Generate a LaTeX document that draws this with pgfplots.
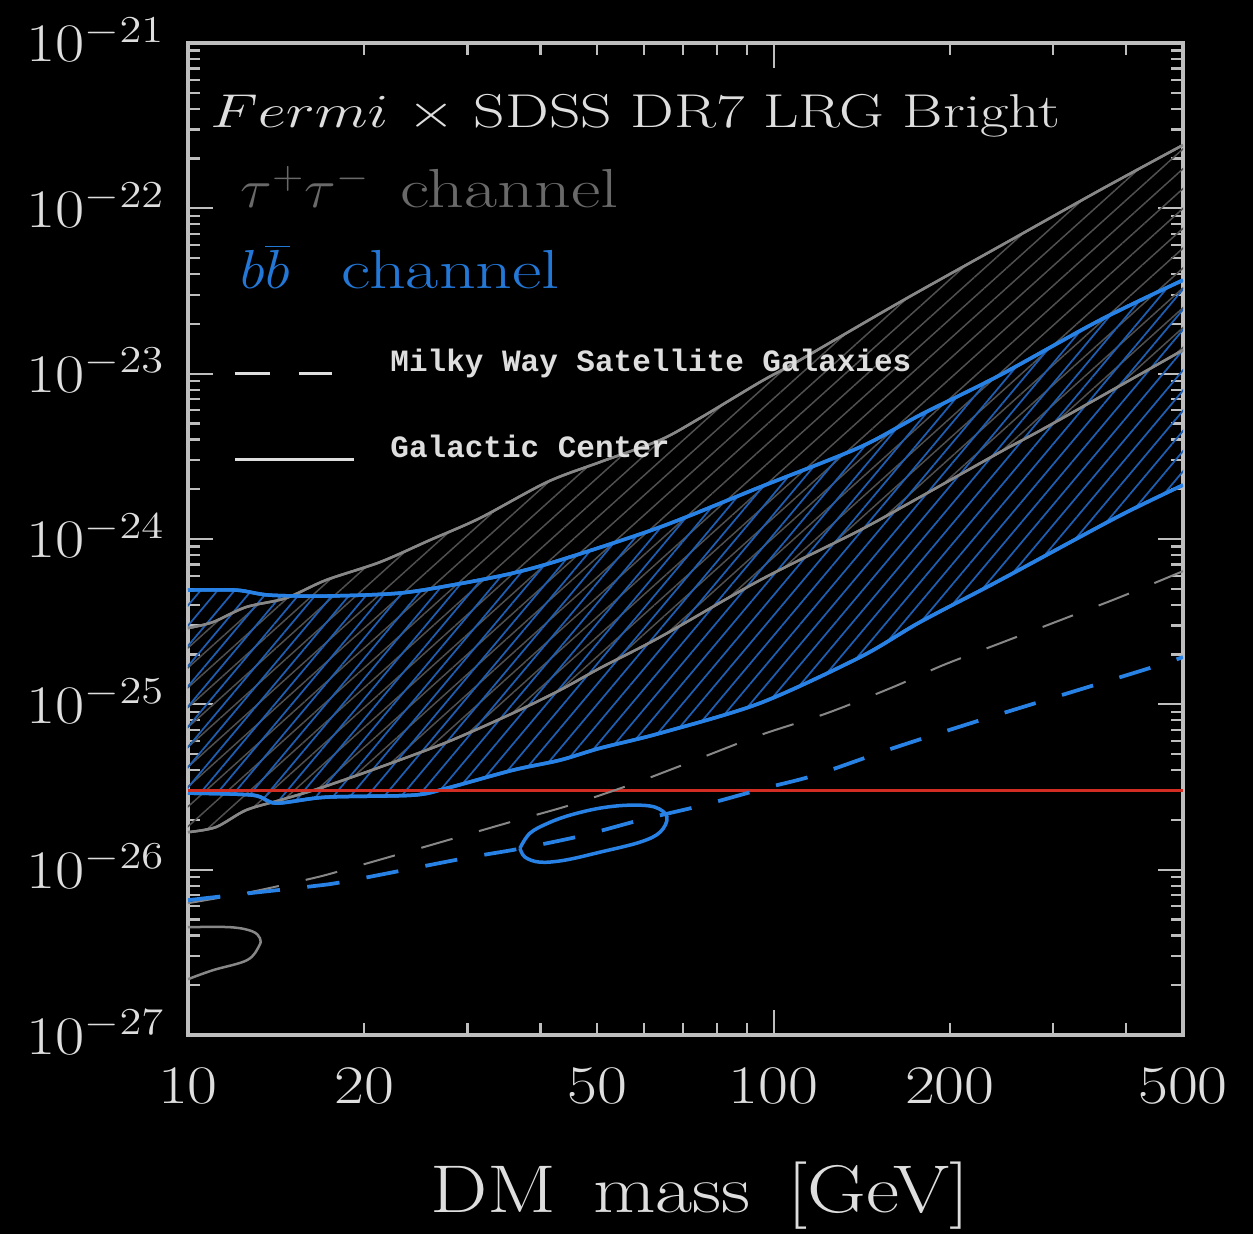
\RequirePackage{fix-cm}
\documentclass[border=0pt]{standalone}
\usepackage{fontspec}
\usepackage{graphicx}
\usepackage{pgfplots}
\pgfplotsset{compat=1.18}
\usepgfplotslibrary{fillbetween}
\usetikzlibrary{patterns.meta}
\newfontfamily\legfont{Liberation Mono}

\definecolor{bband}{RGB}{40,130,230}
\definecolor{bhatch}{RGB}{30,95,180}
\definecolor{tline}{RGB}{135,135,135}
\definecolor{thatch}{RGB}{80,80,80}
\definecolor{redline}{RGB}{210,45,35}
\definecolor{framegray}{RGB}{190,190,190}
\definecolor{labtxt}{RGB}{222,222,222}
\definecolor{tautxt}{RGB}{105,105,105}
\definecolor{btxt}{RGB}{35,120,215}
\pagecolor{black}

% tau tau band (GC)
\pgfplotstableread{
m sv
10 2.891e-25
11.03 3.143e-25
12.56 3.873e-25
14.70 4.39e-25
17.20 5.64e-25
21.28 7.25e-25
25.89 9.85e-25
31.52 1.338e-24
41.03 2.209e-24
50.52 2.918e-24
63.98 3.966e-24
74.88 5.387e-24
94.80 8.896e-24
110.9 1.208e-23
164.4 2.711e-23
243.6 5.914e-23
360.9 1.290e-22
500 2.415e-22
}\tauup
\pgfplotstableread{
m sv
10 1.686e-26
11.16 1.808e-26
12.56 2.290e-26
14.36 2.633e-26
16.80 3.112e-26
21.28 4.17e-26
27.69 5.906e-26
35.89 8.847e-26
43.18 1.219e-25
50.52 1.656e-25
63.98 2.550e-25
94.80 5.64e-25
140.5 1.132e-24
177.8 1.793e-24
243.6 3.355e-24
296.5 4.887e-24
500 1.389e-23
}\taulo
% b bbar band (GC)
\pgfplotstableread{
m sv
10 4.908e-25
12.08 4.91e-25
13.75 4.58e-25
17.20 4.52e-25
23.02 4.71e-25
29.49 5.41e-25
35.89 6.22e-25
43.18 7.45e-25
63.98 1.180e-24
94.80 2.061e-24
140.5 3.597e-24
177.8 5.617e-24
243.6 9.81e-24
360.9 2.11e-23
500 3.68e-23
}\bbup
\pgfplotstableread{
m sv
10 2.902e-26
12.91 2.823e-26
14.13 2.526e-26
17.20 2.745e-26
24.23 2.823e-26
27.69 3.112e-26
35.89 4.0e-26
43.18 4.597e-26
50.52 5.43e-26
63.98 6.69e-26
94.80 1.017e-25
140.5 1.930e-25
177.8 3.143e-25
243.6 5.64e-25
385.9 1.357e-24
500 2.119e-24
}\bblo
% dwarf limits
\pgfplotstableread{
m sv
10 6.27e-27
12.76 7.31e-27
16.35 8.884e-27
18.40 9.93e-27
24.90 1.349e-26
35.47 1.938e-26
44.90 2.456e-26
57.32 3.290e-26
71.99 4.47e-26
94.80 6.51e-26
123.4 8.847e-26
159.9 1.271e-25
194.7 1.726e-25
246.5 2.379e-25
312.0 3.276e-25
390.5 4.451e-25
500 6.39e-25
}\taudw
\pgfplotstableread{
m sv
10 6.54e-27
12.76 7.21e-27
16.35 7.95e-27
18.69 8.52e-27
29.72 1.174e-26
36.46 1.330e-26
46.71 1.595e-26
59.13 1.993e-26
75.77 2.456e-26
96.68 3.112e-26
117.7 3.73e-26
159.9 5.43e-26
234.2 8.37e-26
427.3 1.610e-25
500 1.930e-25
}\bbdw
% GC excess contours
\pgfplotstableread{
m sv
36.89 1.349e-26
38.37 1.663e-26
41.19 1.911e-26
44.90 2.136e-26
50.52 2.356e-26
56.87 2.456e-26
62.73 2.388e-26
65.75 2.078e-26
63.98 1.686e-26
59.13 1.467e-26
50.52 1.276e-26
44.03 1.142e-26
39.92 1.110e-26
37.63 1.190e-26
36.89 1.349e-26
}\bbell
\pgfplotstableread{
m sv
10 4.488e-27
11.80 4.488e-27
12.86 4.245e-27
13.27 3.852e-27
13.22 3.445e-27
12.61 2.835e-27
11.03 2.466e-27
10 2.176e-27
}\tauell

\begin{document}
\begin{tikzpicture}
\begin{axis}[
    at={(0pt,0pt)}, anchor=south west,
    scale only axis, width=398pt, height=396.8pt,
    xmode=log, ymode=log,
    xmin=10, xmax=500, ymin=1e-27, ymax=1e-21,
    axis line style={framegray, line width=1.3pt},
    tick style={framegray, line width=0.9pt},
    major tick length=10pt, minor tick length=5pt,
    xtick={10,100},
    xticklabels={\scalebox{1.2}[1]{10},\scalebox{1.2}[1]{100}},
    extra x ticks={20,50,200,500},
    extra x tick labels={\scalebox{1.2}[1]{20},\scalebox{1.2}[1]{50},\scalebox{1.2}[1]{200},\scalebox{1.2}[1]{500}},
    extra x tick style={major tick length=5pt},
    minor xtick={30,40,60,70,80,90,300,400},
    ytick={1e-27,1e-26,1e-25,1e-24,1e-23,1e-22,1e-21},
    yticklabels={\scalebox{1.17}[1]{$10^{-27}$},\scalebox{1.17}[1]{$10^{-26}$},\scalebox{1.17}[1]{$10^{-25}$},\scalebox{1.17}[1]{$10^{-24}$},\scalebox{1.17}[1]{$10^{-23}$},\scalebox{1.17}[1]{$10^{-22}$},\scalebox{1.17}[1]{$10^{-21}$}},
    minor ytick={2e-27,3e-27,4e-27,5e-27,6e-27,7e-27,8e-27,9e-27,
                 2e-26,3e-26,4e-26,5e-26,6e-26,7e-26,8e-26,9e-26,
                 2e-25,3e-25,4e-25,5e-25,6e-25,7e-25,8e-25,9e-25,
                 2e-24,3e-24,4e-24,5e-24,6e-24,7e-24,8e-24,9e-24,
                 2e-23,3e-23,4e-23,5e-23,6e-23,7e-23,8e-23,9e-23,
                 2e-22,3e-22,4e-22,5e-22,6e-22,7e-22,8e-22,9e-22},
    tick label style={font=\fontsize{21.7}{26}\selectfont, text=labtxt, inner sep=0pt},
    xticklabel style={anchor=base, yshift=-27.2pt},
    yticklabel style={anchor=base east, xshift=-9.2pt, yshift=-7.6pt},
    xlabel={\scalebox{1.2}[1]{DM\hspace{0.45em}mass\hspace{0.45em}$\big[$GeV$\big]$}},
    xlabel style={at={(axis description cs:0.5146,-0.1794)}, anchor=base,
        font=\fontsize{27}{31}\selectfont, text=labtxt, inner sep=0pt},
    legend style={at={(axis description cs:0.0452,0.692)}, anchor=north west,
        draw=none, fill=none, text=labtxt, inner sep=0pt,
        font=\legfont\bfseries\fontsize{12.4}{14}\selectfont,
        row sep=24pt, cells={anchor=west},
        nodes={inner sep=0pt},
        /tikz/every odd column/.append style={column sep=14pt}},
    legend cell align=left,
]
% tau tau GC band
\addplot[name path=tu, tline, line width=1pt, smooth, tension=0.5, forget plot] table[x=m,y=sv] {\tauup};
\addplot[name path=tl, tline, line width=1pt, smooth, tension=0.5, forget plot] table[x=m,y=sv] {\taulo};
\addplot[pattern={Lines[angle=42,distance=5.9pt,line width=0.6pt]}, pattern color=thatch, forget plot] fill between[of=tu and tl];
% b bbar GC band
\addplot[name path=bu, bband, line width=1.4pt, smooth, tension=0.5, forget plot] table[x=m,y=sv] {\bbup};
\addplot[name path=bl, bband, line width=1.4pt, smooth, tension=0.5, forget plot] table[x=m,y=sv] {\bblo};
\addplot[pattern={Lines[angle=50,distance=5.2pt,line width=0.7pt]}, pattern color=bhatch, forget plot] fill between[of=bu and bl];
% redraw boundaries on top
\addplot[tline, line width=1pt, smooth, tension=0.5, forget plot] table[x=m,y=sv] {\tauup};
\addplot[tline, line width=1pt, smooth, tension=0.5, forget plot] table[x=m,y=sv] {\taulo};
\addplot[bband, line width=1.4pt, smooth, tension=0.5, forget plot] table[x=m,y=sv] {\bbup};
\addplot[bband, line width=1.4pt, smooth, tension=0.5, forget plot] table[x=m,y=sv] {\bblo};
% thermal relic
\addplot[redline, line width=1.2pt, forget plot] coordinates {(10,3e-26) (500,3e-26)};
% dwarf limits
\addplot[tline, line width=0.8pt, dash pattern=on 13pt off 11pt, smooth, tension=0.5, forget plot] table[x=m,y=sv] {\taudw};
\addplot[bband, line width=1.5pt, dash pattern=on 13pt off 11pt, smooth, tension=0.5, forget plot] table[x=m,y=sv] {\bbdw};
% GC excess contours
\addplot[bband, line width=1.4pt, smooth, tension=0.6, forget plot] table[x=m,y=sv] {\bbell};
\addplot[tline, line width=1pt, smooth, tension=0.6, forget plot] table[x=m,y=sv] {\tauell};
% legend
\addlegendimage{legend image code/.code={
    \draw[labtxt, line width=1.2pt, dash pattern=on 14pt off 11.6pt] (0pt,-4.4pt) -- (38.8pt,-4.4pt);
    \path (0pt,4.4pt);}}
\addlegendentry{Milky Way Satellite Galaxies}
\addlegendimage{legend image code/.code={
    \draw[labtxt, line width=1.2pt] (0pt,-4.4pt) -- (47.6pt,-4.4pt);
    \path (0pt,4.4pt);}}
\addlegendentry{Galactic Center}
% labels
\node[anchor=base west, text=labtxt, inner sep=0pt, font=\fontsize{19}{22}\selectfont]
    at (axis description cs:0.0221,0.9153) {\scalebox{1.3}[1]{$Fermi$ $\times$ SDSS DR7 LRG Bright}};
\node[anchor=base west, text=tautxt, inner sep=0pt, font=\fontsize{22}{26}\selectfont]
    at (axis description cs:0.0523,0.8337) {\scalebox{1.07}[1]{$\tau^{+}\tau^{-}$}\hspace{0.55em}\scalebox{1.31}[1]{channel}};
\node[anchor=base west, text=btxt, inner sep=0pt, font=\fontsize{22}{26}\selectfont]
    at (axis description cs:0.0523,0.753) {\scalebox{1.07}[1]{$b\overline{b}$}\hspace{0.95em}\scalebox{1.31}[1]{channel}};
\end{axis}
\pgfresetboundingbox
\path[use as bounding box] (-75.2pt,-79.6pt) rectangle (426pt,414pt);
\end{tikzpicture}
\end{document}
